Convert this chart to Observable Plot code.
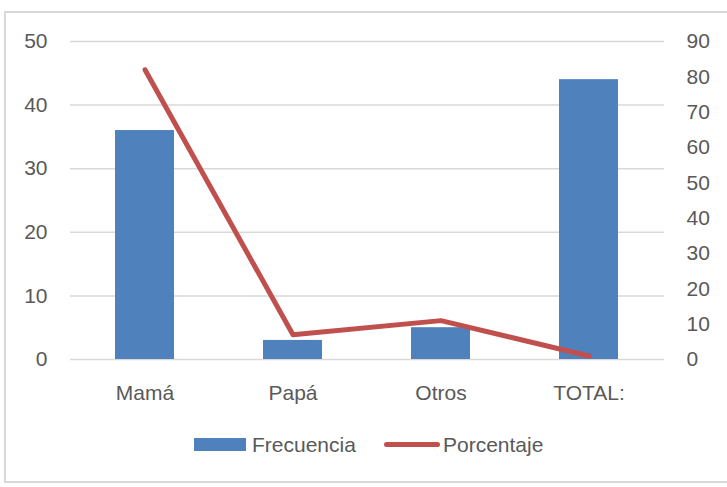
<!DOCTYPE html>
<html>
<head>
<meta charset="utf-8">
<script src="https://cdn.jsdelivr.net/npm/d3@7"></script>
<script src="https://cdn.jsdelivr.net/npm/@observablehq/plot@0.6"></script>
<style>
  body { margin: 0; background: #fff; }
  #wrap { position: relative; width: 727px; height: 487px; overflow: hidden; font-family: "Liberation Sans", Arial, sans-serif; }
  #frame { position: absolute; left: 4px; top: 11px; width: 740px; height: 472px; border: 2px solid #d9d9d9; box-sizing: border-box; }
  #chart { position: absolute; left: 0; top: 0; }
  .leg-text { position: absolute; top: 434px; font-size: 21px; line-height: 21px; color: #595959; white-space: nowrap; }
  .leg-sw { position: absolute; }
</style>
</head>
<body>
<div id="wrap">
  <div id="frame"></div>
  <div id="chart"></div>
  <div class="leg-sw" style="left:194px;top:438px;width:52px;height:13px;background:#4f81bd;"></div>
  <div class="leg-text" style="left:252px;">Frecuencia</div>
  <div class="leg-sw" style="left:384px;top:442px;width:56px;height:5px;border-radius:2.5px;background:#c0504d;"></div>
  <div class="leg-text" style="left:443px;">Porcentaje</div>
</div>
<script>
const categories = ["Mamá", "Papá", "Otros", "TOTAL:"];
const frecuencia = [36, 3, 5, 44];
const porcentaje = [82, 7, 11, 1];
const leftTicks = [0, 10, 20, 30, 40, 50];
const rightTicks = [0, 10, 20, 30, 40, 50, 60, 70, 80, 90];

const LEFT_MAX = 50, RIGHT_MAX = 90;
const toLeft = v => v * LEFT_MAX / RIGHT_MAX;

const rows = categories.map((c, i) => ({cat: c, frec: frecuencia[i], pct: porcentaje[i]}));

const chart = Plot.plot({
  width: 727,
  height: 487,
  marginLeft: 70,
  marginRight: 63,
  marginTop: 41,
  marginBottom: 128,
  style: {fontFamily: "Liberation Sans, Arial, sans-serif", fontSize: "21px", color: "#595959", background: "transparent", overflow: "visible"},
  x: {domain: categories, paddingInner: 0.6, paddingOuter: 0.3, align: 0.5},
  y: {domain: [0, LEFT_MAX]},
  marks: [
    Plot.ruleY(leftTicks, {stroke: "#d9d9d9", strokeWidth: 1.5}),
    Plot.barY(rows, {x: "cat", y: "frec", fill: "#4f81bd"}),
    Plot.line(rows, {x: "cat", y: d => toLeft(d.pct), stroke: "#c0504d", strokeWidth: 5, strokeLinecap: "round", strokeLinejoin: "round"}),
    Plot.axisY(leftTicks, {anchor: "left", tickSize: 0, tickPadding: 23, fill: "#595959", fontSize: 21, label: null}),
    Plot.axisY(rightTicks.map(toLeft), {anchor: "right", tickSize: 0, tickPadding: 22, fill: "#595959", fontSize: 21, label: null, tickFormat: d => String(Math.round(d * RIGHT_MAX / LEFT_MAX))}),
    Plot.axisX({tickSize: 0, tickPadding: 26, fill: "#595959", fontSize: 21, label: null})
  ]
});
document.getElementById("chart").appendChild(chart);
</script>
</body>
</html>
